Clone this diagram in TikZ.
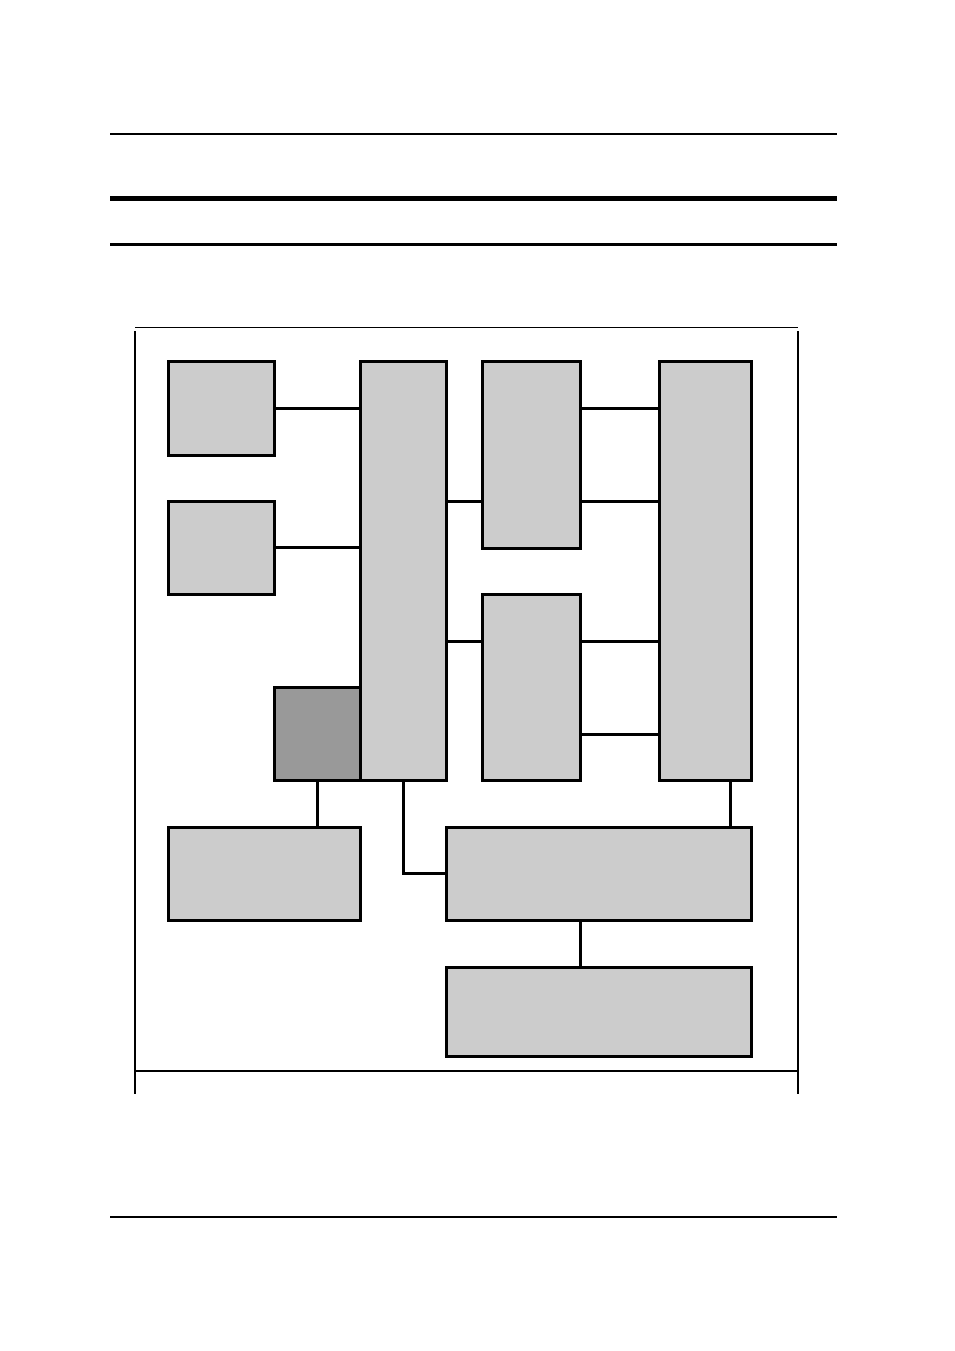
\documentclass[tikz,border=0pt]{standalone}
\begin{document}
\begin{tikzpicture}[x=1pt,y=-1pt,
  box/.style={draw=black,line width=3pt,fill=black!20,anchor=north west,inner sep=0pt,outer sep=0pt},
  darkbox/.style={box,fill=black!40},
  conn/.style={draw=black,line width=3pt}]
\useasboundingbox (0,0) rectangle (954,1351);
\fill[white] (0,0) rectangle (954,1351);
% page rules
\draw[line width=2pt] (110,134) -- (837,134);
\draw[line width=5pt] (110,198.5) -- (837,198.5);
\draw[line width=3pt] (110,244.5) -- (837,244.5);
\draw[line width=1.5pt] (110,1217) -- (837,1217);
% frame
\draw[line width=1pt] (135,327) -- (798,327);
\draw[line width=2pt] (135,331) -- (135,1094);
\draw[line width=2pt] (797.5,331) -- (797.5,1094);
\draw[line width=2pt] (135,1071) -- (797.5,1071);
% boxes
\node[box,minimum width=106,minimum height=94] (A) at (168,361) {};
\node[box,minimum width=106,minimum height=93] (B) at (168,501) {};
\node[box,minimum width=86,minimum height=419] (C) at (360,361) {};
\node[box,minimum width=98,minimum height=187] (D) at (482,361) {};
\node[box,minimum width=98,minimum height=186] (E) at (482,594) {};
\node[box,minimum width=92,minimum height=419] (F) at (659,361) {};
\node[darkbox,minimum width=86,minimum height=93] (G) at (274,687) {};
\node[box,minimum width=192,minimum height=93] (H) at (168,827) {};
\node[box,minimum width=305,minimum height=93] (I) at (446,827) {};
\node[box,minimum width=305,minimum height=89] (J) at (446,967) {};
% helper coordinates
\coordinate (y501) at (0,501);
\coordinate (y641) at (0,641);
\coordinate (y408) at (0,408);
\coordinate (y734) at (0,734);
\coordinate (x730) at (730,0);
\coordinate (x580) at (580,0);
% connectors
\draw[conn] (A.east) -- (A.east -| C.west);
\draw[conn] (B.east) -- (B.east -| C.west);
\draw[conn] (C.east |- y501) -- (D.west |- y501);
\draw[conn] (C.east |- y641) -- (E.west |- y641);
\draw[conn] (D.east |- y408) -- (F.west |- y408);
\draw[conn] (D.east |- y501) -- (F.west |- y501);
\draw[conn] (E.east |- y641) -- (F.west |- y641);
\draw[conn] (E.east |- y734) -- (F.west |- y734);
\draw[conn] (G.south) -- (G.south |- H.north);
\draw[conn] (C.south) |- (I.west);
\draw[conn] (x730 |- F.south) -- (x730 |- I.north);
\draw[conn] (x580 |- I.south) -- (x580 |- J.north);
\end{tikzpicture}
\end{document}
